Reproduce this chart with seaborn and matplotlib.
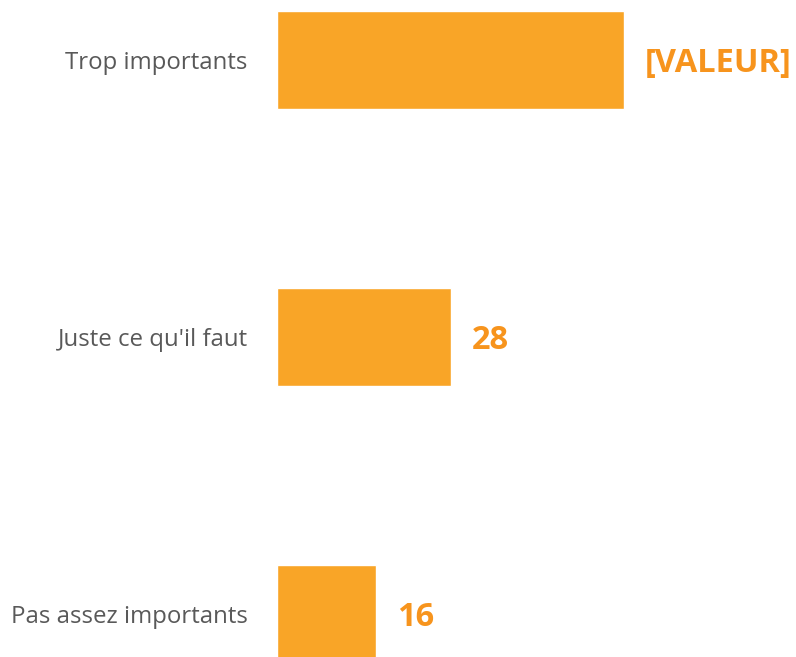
import matplotlib
matplotlib.use("Agg")
import matplotlib.pyplot as plt
import seaborn as sns
import pandas as pd

categories = ["Trop importants", "Juste ce qu'il faut", "Pas assez importants"]
values = [56, 28, 16]
value_labels = ["[VALEUR]", "28", "16"]

df = pd.DataFrame({"cat": categories, "val": values})

sns.set_theme(style="white")
plt.rcParams["font.family"] = ["Open Sans", "DejaVu Sans"]

W, H = 796, 657
fig = plt.figure(figsize=(W / 100, H / 100), dpi=100)
ax = fig.add_axes([277 / W, 0, 1 - 277 / W, 1])

sns.barplot(data=df, y="cat", x="val", orient="h", color="#F9A527",
            saturation=1, width=0.354, ax=ax)

px_per_unit = 6.2
ax.set_xlim(0, (W - 277) / px_per_unit)
ax.set_ylim(2 + 43 / 277, -60 / 277)

for i, (v, lab) in enumerate(zip(values, value_labels)):
    ax.annotate(lab, xy=(v, i), xytext=(21, -4), textcoords="offset pixels",
                ha="left", va="center", fontsize=23.5, fontweight="bold",
                color="#F7941D")

ax.set_xlabel("")
ax.set_ylabel("")
ax.set_xticks([])
ax.tick_params(axis="y", length=0, pad=21, labelsize=17.3, labelcolor="#595959")
for s in ax.spines.values():
    s.set_visible(False)

fig.savefig("out.png", dpi=100)
